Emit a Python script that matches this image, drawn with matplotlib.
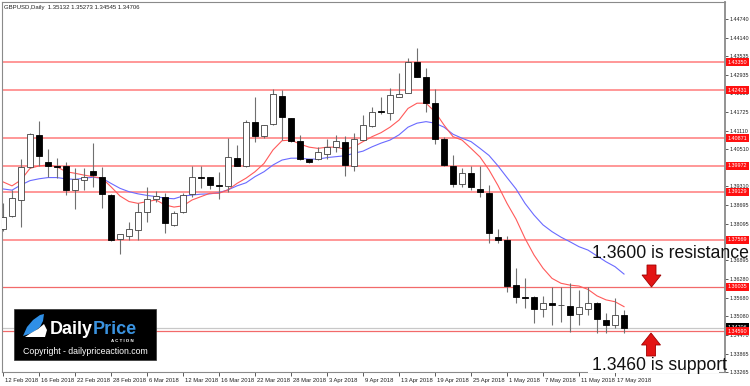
import numpy as np
import pandas as pd
import matplotlib
matplotlib.use("Agg")
import matplotlib.pyplot as plt
from matplotlib.patches import Rectangle, Polygon
import matplotlib.transforms as mtransforms

# ---------------- data ----------------
dates = pd.bdate_range("2018-02-12", "2018-05-18")

opens = [1.3791, 1.3834, 1.3886, 1.3994, 1.4098, 1.4011, 1.3997, 1.3996, 1.3919, 1.3951,
         1.3981, 1.3962, 1.3901, 1.3758, 1.3769, 1.3788, 1.3848, 1.3888, 1.3897, 1.3805,
         1.3848, 1.3906, 1.3962, 1.3960, 1.3935, 1.3932, 1.4024, 1.3997, 1.4141, 1.4094,
         1.4132, 1.4224, 1.4152, 1.4077, 1.4018, 1.4018, 1.4036, 1.4058, 1.4076, 1.3997,
         1.4081, 1.4127, 1.4176, 1.4170, 1.4222, 1.4235, 1.4336, 1.4285, 1.4201, 1.4084,
         1.3997, 1.3938, 1.3975, 1.3921, 1.3910, 1.3767, 1.3756, 1.3609, 1.3571, 1.3569,
         1.3530, 1.3552, 1.3545, 1.3541, 1.3514, 1.3531, 1.3552, 1.3497, 1.3480, 1.35132]
highs = [1.3875, 1.3919, 1.4018, 1.4105, 1.4144, 1.4051, 1.4022, 1.4011, 1.3989, 1.3989,
         1.4073, 1.3994, 1.3905, 1.3776, 1.3815, 1.3877, 1.3927, 1.3916, 1.3908, 1.3851,
         1.3910, 1.3997, 1.3997, 1.3962, 1.3978, 1.4087, 1.4065, 1.4146, 1.4220, 1.4130,
         1.4246, 1.4244, 1.4153, 1.4098, 1.4019, 1.4058, 1.4085, 1.4098, 1.4094, 1.4105,
         1.4163, 1.4190, 1.4222, 1.4250, 1.4298, 1.4347, 1.4380, 1.4315, 1.4246, 1.4090,
         1.4032, 1.3989, 1.3997, 1.3997, 1.3935, 1.3791, 1.3769, 1.3664, 1.3631, 1.3572,
         1.3574, 1.3602, 1.3604, 1.3615, 1.3593, 1.3604, 1.3555, 1.3517, 1.3566, 1.35273]
lows = [1.3784, 1.3830, 1.3797, 1.3990, 1.3997, 1.3960, 1.3957, 1.3902, 1.3856, 1.3919,
        1.3927, 1.3859, 1.3754, 1.3710, 1.3756, 1.3756, 1.3815, 1.3881, 1.3780, 1.3800,
        1.3843, 1.3897, 1.3924, 1.3921, 1.3888, 1.3913, 1.3996, 1.3995, 1.4076, 1.4087,
        1.4130, 1.4081, 1.4076, 1.4016, 1.4008, 1.4016, 1.4018, 1.4043, 1.3964, 1.3981,
        1.4080, 1.4125, 1.4166, 1.4146, 1.4220, 1.4233, 1.4285, 1.4173, 1.4068, 1.3998,
        1.3927, 1.3927, 1.3919, 1.3895, 1.3747, 1.3747, 1.3588, 1.3552, 1.3534, 1.3485,
        1.3506, 1.3479, 1.3490, 1.3458, 1.3479, 1.3512, 1.3452, 1.3452, 1.3471, 1.34545]
closes = [1.3832, 1.3891, 1.3994, 1.4100, 1.4029, 1.3997, 1.3992, 1.3919, 1.3953, 1.3962,
          1.3966, 1.3906, 1.3756, 1.3774, 1.3791, 1.3848, 1.3888, 1.3899, 1.3810, 1.3843,
          1.3902, 1.3960, 1.3959, 1.3935, 1.3932, 1.4025, 1.3997, 1.4141, 1.4094, 1.4129,
          1.4230, 1.4155, 1.4079, 1.4018, 1.4011, 1.4043, 1.4058, 1.4079, 1.4000, 1.4085,
          1.4130, 1.4173, 1.4172, 1.4228, 1.4230, 1.4336, 1.4287, 1.4201, 1.4084, 1.4000,
          1.3938, 1.3975, 1.3927, 1.3913, 1.3780, 1.3756, 1.3606, 1.3569, 1.3568, 1.3530,
          1.3552, 1.3544, 1.3545, 1.3512, 1.3539, 1.3552, 1.3499, 1.3480, 1.3513, 1.34706]

ma_fast = [1.3945, 1.3932, 1.3951, 1.3989, 1.3997, 1.4000, 1.3994, 1.3978, 1.3973, 1.3967,
           1.3962, 1.3957, 1.3929, 1.3899, 1.3881, 1.3875, 1.3881, 1.3886, 1.3870, 1.3863,
           1.3867, 1.3886, 1.3897, 1.3908, 1.3908, 1.3919, 1.3940, 1.3957, 1.3978, 1.4005,
           1.4049, 1.4079, 1.4081, 1.4068, 1.4058, 1.4054, 1.4058, 1.4058, 1.4051, 1.4059,
           1.4076, 1.4092, 1.4105, 1.4123, 1.4146, 1.4184, 1.4201, 1.4201, 1.4173, 1.4130,
           1.4092, 1.4081, 1.4054, 1.4026, 1.3984, 1.3933, 1.3875, 1.3824, 1.3761, 1.3707,
           1.3664, 1.3631, 1.3615, 1.3609, 1.3606, 1.3595, 1.3574, 1.3561, 1.3555, 1.3539]
ma_slow = [1.3922, 1.3918, 1.3935, 1.3949, 1.3955, 1.3959, 1.3959, 1.3955, 1.3953, 1.3957,
           1.3960, 1.3957, 1.3940, 1.3924, 1.3913, 1.3906, 1.3901, 1.3897, 1.3892, 1.3890,
           1.3899, 1.3902, 1.3905, 1.3906, 1.3910, 1.3919, 1.3932, 1.3942, 1.3962, 1.3978,
           1.4000, 1.4016, 1.4022, 1.4022, 1.4019, 1.4019, 1.4024, 1.4027, 1.4030, 1.4038,
           1.4045, 1.4059, 1.4071, 1.4081, 1.4098, 1.4123, 1.4136, 1.4141, 1.4136, 1.4123,
           1.4100, 1.4087, 1.4076, 1.4054, 1.4031, 1.3997, 1.3959, 1.3922, 1.3875, 1.3837,
           1.3805, 1.3783, 1.3765, 1.3750, 1.3734, 1.3723, 1.3704, 1.3685, 1.3669, 1.3645]

levels_main = [1.43350, 1.42431, 1.40871, 1.39972, 1.39129, 1.37569]
levels_near = [1.36035, 1.34590]
last_close = 1.34706

price_ticks = [1.44740, 1.44140, 1.43535, 1.42935, 1.42330, 1.41725, 1.41110, 1.40510,
               1.39910, 1.39310, 1.38695, 1.38095, 1.37490, 1.36895, 1.36280, 1.35680,
               1.35080, 1.34470, 1.33865, 1.33265]
date_tick_labels = ["12 Feb 2018", "16 Feb 2018", "22 Feb 2018", "28 Feb 2018", "6 Mar 2018",
                    "12 Mar 2018", "16 Mar 2018", "22 Mar 2018", "28 Mar 2018", "3 Apr 2018",
                    "9 Apr 2018", "13 Apr 2018", "19 Apr 2018", "25 Apr 2018", "1 May 2018",
                    "7 May 2018", "11 May 2018", "17 May 2018"]
title_text = "GBPUSD,Daily  1.35132 1.35273 1.34545 1.34706"
resist_text = "1.3600 is resistance"
support_text = "1.3460 is support"

# ---------------- figure ----------------
W, H = 750, 386
fig = plt.figure(figsize=(W / 100, H / 100), dpi=100)
fig.patch.set_facecolor("white")

def fx(x):
    return x / W

def fy(y):
    return 1 - y / H

ax_left, ax_right, ax_top, ax_bot = 1.5, 725.0, 2.0, 372.0
ax = fig.add_axes([fx(ax_left), fy(ax_bot), (ax_right - ax_left) / W, (ax_bot - ax_top) / H])
ax.set_facecolor("white")

n = len(closes)
xs = np.arange(n)
ax.set_xlim(-0.167, 80.22)
ax.set_ylim(1.33263, 1.45303)

# horizontal levels
for lv in levels_main:
    ax.axhline(lv, color="#ff8f8f", lw=1.3, zorder=1)
for lv in levels_near:
    ax.axhline(lv, color="#f26a6a", lw=0.9, zorder=1)
ax.axhline(last_close, color="#c8c8c8", lw=0.9, zorder=1)

# moving averages
ax.plot(xs, ma_slow, color="#6a6aff", lw=0.8, zorder=2)
ax.plot(xs, ma_fast, color="#ff5a5a", lw=0.8, zorder=2)

# candles
o = np.array(opens); c = np.array(closes); h = np.array(highs); l = np.array(lows)
ax.vlines(xs, l, h, color="#707070", lw=0.8, zorder=3)
bull = c >= o
body_lo = np.minimum(o, c)
body_h = np.maximum(np.abs(c - o), 0.00005)
ax.bar(xs[bull], body_h[bull], bottom=body_lo[bull], width=0.62, color="white",
       edgecolor="#404040", linewidth=0.6, zorder=4)
ax.bar(xs[~bull], body_h[~bull], bottom=body_lo[~bull], width=0.62, color="black",
       edgecolor="black", linewidth=0.6, zorder=4)

# spines
for s in ["left", "top", "bottom"]:
    ax.spines[s].set_color("#8a8a8a")
    ax.spines[s].set_linewidth(0.8)
ax.spines["right"].set_color("#8a8a8a")
ax.spines["right"].set_linewidth(1.3)

# y axis on right
ax.yaxis.tick_right()
ax.set_yticks(price_ticks)
ax.set_yticklabels([f"{p:.5f}" for p in price_ticks])
ax.tick_params(axis="y", direction="out", length=2.0, width=0.6, color="#404040",
               pad=1.0, labelsize=3.9, labelcolor="#202020")
ax.tick_params(axis="y", which="both", left=False)
for t in ax.get_yticklabels():
    t.set_fontfamily("Liberation Sans")

# x axis
xt = [i * 4 for i in range(len(date_tick_labels))]
ax.set_xticks(xt)
ax.set_xticklabels(date_tick_labels)
ax.tick_params(axis="x", direction="out", length=3, width=0.6, color="#404040",
               pad=1.0, labelsize=4.2, labelcolor="#202020")
for t in ax.get_xticklabels():
    t.set_ha("left")
    t.set_fontfamily("Liberation Sans")
offset = mtransforms.ScaledTranslation(1.5 / 100, 0, fig.dpi_scale_trans)
for t in ax.get_xticklabels():
    t.set_transform(t.get_transform() + offset)

# price labels on right axis
blend = mtransforms.blended_transform_factory(ax.transAxes, ax.transData)
for lv in levels_main + levels_near:
    ax.text(1.0035, lv, f"{lv:.5f}", transform=blend, fontsize=3.9, family="Liberation Sans",
            color="white", va="center", ha="left", clip_on=False, zorder=10,
            bbox=dict(boxstyle="square,pad=0.3", fc="#ff1010", ec="#ff1010", lw=0))
ax.text(1.0035, last_close + 0.0001, f"{last_close:.5f}", transform=blend, fontsize=3.9,
        family="Liberation Sans", color="white", va="center", ha="left", clip_on=False,
        zorder=9, bbox=dict(boxstyle="square,pad=0.3", fc="black", ec="black", lw=0))

# title
fig.text(fx(4), fy(7), title_text, fontsize=4.3, family="Liberation Sans",
         color="#202020", va="center", ha="left")

# annotations
fig.text(fx(592), fy(253), resist_text, fontsize=12.7, family="Liberation Sans",
         color="#111111", va="center", ha="left", zorder=20)
cover = Rectangle((fx(588), fy(373)), (719 - 588) / W, (373 - 354) / H, transform=fig.transFigure,
                  fc="white", ec="none", zorder=19)
fig.add_artist(cover)
fig.text(fx(592), fy(366), support_text, fontsize=12.7, family="Liberation Sans",
         color="#111111", va="center", ha="left", zorder=20)

def poly(pts, **kw):
    p = Polygon([(fx(a), fy(b)) for a, b in pts], closed=True, transform=fig.transFigure, **kw)
    fig.add_artist(p)
    return p

# down arrow
poly([(647, 265), (656, 265), (656, 275), (661, 275), (651.5, 287), (642, 275), (647, 275)],
     fc="#e31414", ec="#a00000", lw=0.6, zorder=21)
# up arrow
poly([(651, 333), (660.5, 345), (655.5, 345), (655.5, 356), (646.5, 356), (646.5, 345), (641.5, 345)],
     fc="#e31414", ec="#a00000", lw=0.6, zorder=21)

# logo
logo = Rectangle((fx(14), fy(360)), (156 - 14) / W, (360 - 309) / H, transform=fig.transFigure,
                 fc="black", ec="#303030", lw=0.5, zorder=15)
fig.add_artist(logo)
poly([(23, 336), (27, 327), (33, 320), (40, 315), (44, 314), (43, 321), (40, 327), (35, 331), (29, 334)],
     fc="#2f8fe6", ec="none", zorder=16)
poly([(25, 337), (31, 333), (38, 329), (44, 324), (47, 330), (45, 337)],
     fc="white", ec="none", zorder=16)
fig.text(fx(50), fy(330), "Daily", fontsize=13, fontweight="bold", family="Liberation Sans",
         color="white", va="center", ha="left", zorder=17)
fig.text(fx(93), fy(330), "Price", fontsize=13, fontweight="bold", family="Liberation Sans",
         color="#3a93e0", va="center", ha="left", zorder=17)
fig.text(fx(122), fy(341), "A C T I O N", fontsize=3.2, fontweight="bold",
         family="Liberation Sans", color="white", va="center", ha="center", zorder=17)
fig.text(fx(85), fy(352), "Copyright - dailypriceaction.com", fontsize=6.3,
         family="Liberation Sans", color="white", va="center", ha="center", zorder=17)

fig.savefig("out.png", dpi=100)
